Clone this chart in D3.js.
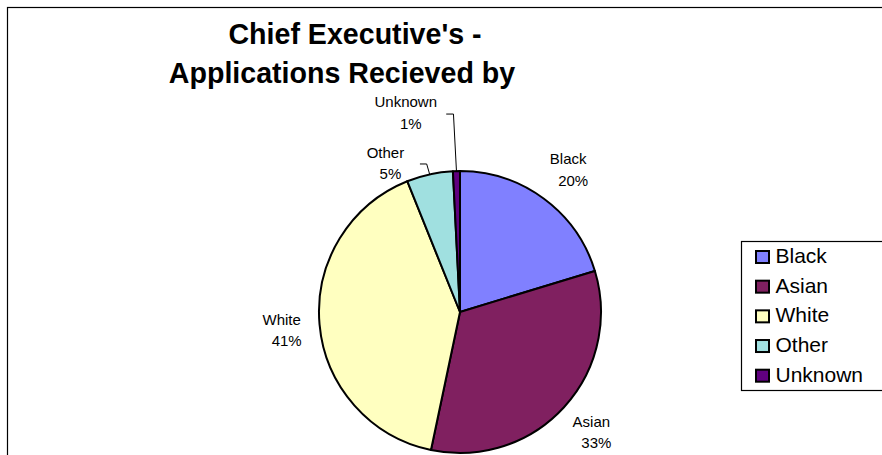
<!DOCTYPE html>
<html><head><meta charset="utf-8">
<script src="https://cdn.jsdelivr.net/npm/d3@7"></script>
<style>
html,body{margin:0;padding:0;background:#fff;}
svg{display:block;font-family:"Liberation Sans",Arial,sans-serif;}
</style></head>
<body>
<svg id="chart" width="882" height="455"></svg>
<script>
// ---- data ----
const categories = ["Black", "Asian", "White", "Other", "Unknown"];
const values = [20.3, 33.0, 40.6, 5.3, 0.8];
const colors = ["#8080FF", "#802060", "#FFFFC0", "#A0E0E0", "#600080"];
const titleLines = ["Chief Executive's -", "Applications Recieved by"];

// ---- layout (not data) ----
const W = 882, H = 455;
const cx = 460, cy = 312, R = 141, labelR = 170;
// label nudges relative to outer label point; leader offsets for moved labels
const labelNudge = [
  {dx: 7, dy: -11},
  {dx: 6, dy: 0},
  {dx: -9, dy: -2},
  {dx: -38, dy: 12, leader: {sx: 34.5, sy: 6}},
  {dx: -50, dy: -35, leader: {sx: 40.5, sy: 7}}
];

const svg = d3.select("#chart");
svg.append("rect").attr("width", W).attr("height", H).attr("fill", "#fff");

// chart frame (clipped at right/bottom)
svg.append("rect").attr("x", 7.5).attr("y", 7.5).attr("width", 900).attr("height", 500)
  .attr("fill", "none").attr("stroke", "#000").attr("stroke-width", 1.2);

// title
const titleX = [355, 342], titleY = [44, 83];
titleLines.forEach((t, i) => {
  svg.append("text").attr("x", titleX[i]).attr("y", titleY[i])
    .attr("text-anchor", "middle").attr("font-weight", "bold")
    .attr("font-size", 28.6).attr("fill", "#000").text(t);
});

const data = categories.map((c, i) => ({cat: c, value: values[i], color: colors[i]}));
const total = d3.sum(values);
const pie = d3.pie().sort(null).value(d => d.value).startAngle(0).endAngle(2 * Math.PI);
const arcs = pie(data);
const arc = d3.arc().innerRadius(0).outerRadius(R);
const labelArc = d3.arc().innerRadius(labelR).outerRadius(labelR);
const edgeArc = d3.arc().innerRadius(R).outerRadius(R);

const g = svg.append("g").attr("transform", `translate(${cx},${cy})`);
g.selectAll("path.slice").data(arcs).join("path")
  .attr("class", "slice")
  .attr("d", arc)
  .attr("fill", d => d.data.color)
  .attr("stroke", "#000").attr("stroke-width", 2).attr("stroke-linejoin", "round");

const fmt = d3.format(".0%");
arcs.forEach((d, i) => {
  const [lx, ly] = labelArc.centroid(d);
  const n = labelNudge[i];
  const x = lx + n.dx, y = ly + n.dy;
  const t = g.append("text").attr("font-size", 15).attr("fill", "#000").attr("text-anchor", "middle");
  t.append("tspan").attr("x", x).attr("y", y).text(d.data.cat);
  t.append("tspan").attr("x", x + 5).attr("y", y + 21.5).text(fmt(d.data.value / total));
  if (n.leader) {
    const [ex, ey] = edgeArc.centroid(d);
    const sx = x + n.leader.sx, sy = y + n.leader.sy;
    g.append("polyline")
      .attr("points", [[sx, sy], [ex - 3, sy], [ex, ey]].map(p => p.join(",")).join(" "))
      .attr("fill", "none").attr("stroke", "#000").attr("stroke-width", 1);
  }
});

// legend
const lg = svg.append("g");
lg.append("rect").attr("x", 741.5).attr("y", 241.5).attr("width", 200).attr("height", 149)
  .attr("fill", "#fff").attr("stroke", "#000").attr("stroke-width", 1.2);
const rowY = d3.scalePoint().domain(categories).range([263, 381.7]);
categories.forEach((c, i) => {
  const y = rowY(c);
  lg.append("rect").attr("x", 756).attr("y", y - 12).attr("width", 13).attr("height", 12)
    .attr("fill", colors[i]).attr("stroke", "#000").attr("stroke-width", 2);
  lg.append("text").attr("x", 775.5).attr("y", y).attr("font-size", 21).attr("fill", "#000").text(c);
});
</script>
</body></html>
